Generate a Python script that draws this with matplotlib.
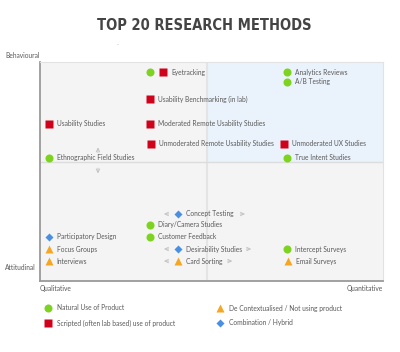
import matplotlib
matplotlib.use("Agg")
import matplotlib.pyplot as plt
from matplotlib.patches import Rectangle
from matplotlib import font_manager
from matplotlib.font_manager import FontProperties

# ---------------- data ----------------
methods = ["Eyetracking", "Usability Benchmarking (in lab)", "Usability Studies",
           "Moderated Remote Usability Studies", "Unmoderated Remote Usability Studies",
           "Ethnographic Field Studies", "Analytics Reviews", "A/B Testing",
           "Unmoderated UX Studies", "True Intent Studies", "Concept Testing",
           "Diary/Camera Studies", "Customer Feedback", "Participatory Design",
           "Focus Groups", "Interviews", "Desirability Studies", "Card Sorting",
           "Intercept Surveys", "Email Surveys"]
qual_quant = [35.9, 32.1, 2.6, 32.1, 32.4, 2.6, 72.0, 72.0, 71.1, 72.0,
              40.2, 32.1, 32.1, 2.6, 2.6, 2.6, 40.2, 40.2, 72.0, 72.3]
att_beh = [95.4, 83.1, 71.7, 71.7, 62.6, 56.2, 95.4, 90.9, 62.6, 56.2,
           30.6, 25.6, 20.1, 20.1, 14.6, 9.1, 14.6, 9.1, 14.6, 9.1]
kinds = ["scripted", "scripted", "scripted", "scripted", "scripted",
         "natural", "natural", "natural", "scripted", "natural",
         "hybrid", "natural", "natural", "hybrid",
         "decontext", "decontext", "hybrid", "decontext", "natural", "decontext"]
# Eyetracking also has a natural-use marker
extra_x = [32.1]
extra_y = [95.4]
extra_kind = ["natural"]

# methods that can slide along the quantitative axis (arrows both sides)
sliding = ["Concept Testing", "Desirability Studies", "Card Sorting"]
slide_right_end = [60.6, 62.4, 56.9]

legend_kinds = ["natural", "scripted", "decontext", "hybrid"]
legend_labels = ["Natural Use of Product", "Scripted (often lab based) use of product",
                 "De Contextualised / Not using product", "Combination / Hybrid"]

title = "TOP 20 RESEARCH METHODS"

# ---------------- style ----------------
style = {
    "natural": dict(marker="o", color="#7ed321", ms=5.8),
    "scripted": dict(marker="s", color="#d0021b", ms=5.2),
    "decontext": dict(marker="^", color="#f5a623", ms=6.0),
    "hybrid": dict(marker="D", color="#4a90e2", ms=4.3),
}
FONT = "Lato"
TXT = "#5a5a5a"
FS = 4.8

# find a condensed bold font for the title if one is installed
title_fp = None
cands = []
for f in font_manager.fontManager.ttflist:
    fn = f.fname.lower()
    if ("condensed" in fn or "narrow" in fn) and ("bold" in fn or f.weight in (700, "bold")):
        cands.append(f)
if cands:
    cands.sort(key=lambda f: (("oblique" in f.fname.lower()) or ("italic" in f.fname.lower()),
                              "extra" in f.fname.lower() or "semi" in f.fname.lower()))
    title_fp = FontProperties(fname=cands[0].fname)
else:
    title_fp = FontProperties(family="DejaVu Sans", weight="bold")

fig = plt.figure(figsize=(4.0, 3.52), dpi=100)
fig.patch.set_facecolor("white")
ax = fig.add_axes([40/400, 1-281/352, 343/400, 219/352])
ax.set_xlim(0, 100)
ax.set_ylim(0, 100)
ax.set_facecolor("#f4f4f4")
ax.set_xticks([])
ax.set_yticks([])

xdiv, ydiv = 48.7, 54.3
ax.add_patch(Rectangle((xdiv, ydiv), 100-xdiv, 100-ydiv, facecolor="#eaf2fb",
                       edgecolor="none", zorder=0))
ax.axvline(xdiv, color="#e4e4e4", lw=1.5, zorder=1)
ax.axhline(ydiv, color="#dcdcdc", lw=1.0, zorder=1)

for s in ["top", "right"]:
    ax.spines[s].set_color("#e2e2e2")
    ax.spines[s].set_linewidth(0.8)
for s in ["left", "bottom"]:
    ax.spines[s].set_color("#9a9a9a")
    ax.spines[s].set_linewidth(1.3)

for xv, yv, k in zip(extra_x, extra_y, extra_kind):
    st = style[k]
    ax.plot(xv, yv, linestyle="none", marker=st["marker"], color=st["color"],
            ms=st["ms"], mec="none", zorder=3)

for name, xv, yv, k in zip(methods, qual_quant, att_beh, kinds):
    st = style[k]
    ax.plot(xv, yv, linestyle="none", marker=st["marker"], color=st["color"],
            ms=st["ms"], mec="none", zorder=3)
    ax.text(xv + 2.3, yv, name, fontsize=FS, family=FONT, color=TXT,
            va="center", ha="left", zorder=4)

arrow_kw = dict(arrowstyle="->,head_length=0.25,head_width=0.12", color="#c4c4c4", lw=0.7)
for name, rend in zip(sliding, slide_right_end):
    i = methods.index(name)
    xv, yv = qual_quant[i], att_beh[i]
    ax.annotate("", xy=(xv - 4.9, yv), xytext=(xv - 1.9, yv), arrowprops=arrow_kw)
    ax.annotate("", xy=(rend, yv), xytext=(rend - 3.0, yv), arrowprops=arrow_kw)

# vertical arrows near Ethnographic Field Studies
ax.annotate("", xy=(16.9, 62.3), xytext=(16.9, 57.3), arrowprops=arrow_kw)
ax.annotate("", xy=(16.9, 47.8), xytext=(16.9, 52.8), arrowprops=arrow_kw)

# axis labels
fig.text(5/400, 1-56/352, "Behavioural", fontsize=FS, family=FONT, color=TXT, va="center")
fig.text(5/400, 1-268/352, "Attitudinal", fontsize=FS, family=FONT, color=TXT, va="center")
fig.text(40/400, 1-289/352, "Qualitative", fontsize=FS, family=FONT, color=TXT, va="center")
fig.text(383/400, 1-289/352, "Quantitative", fontsize=FS, family=FONT, color=TXT,
         va="center", ha="right")

t = fig.text(204/400, 1-25/352, title, fontproperties=title_fp, fontsize=13.5,
             color="#444444", ha="center", va="center")
# shrink the title so its width approaches the reference (~185 px)
fig.canvas.draw()
w = t.get_window_extent().width
target = 185.0
if w > target:
    t.set_fontsize(max(10.5, 13.5 * target / w))

fig.text(118/400, 1-45/352, "-", fontsize=4, color="#aaaaaa", ha="center", va="center")

# legend
lax = fig.add_axes([0, 0, 1, 1], zorder=-1)
lax.set_xlim(0, 400)
lax.set_ylim(352, 0)
lax.axis("off")
leg_x = [48, 48, 220, 220]
leg_y = [308, 323, 308, 323]
for k, lab, lx, ly in zip(legend_kinds, legend_labels, leg_x, leg_y):
    st = style[k]
    lax.plot(lx, ly, linestyle="none", marker=st["marker"], color=st["color"],
             ms=st["ms"], mec="none")
    lax.text(lx + 9, ly, lab, fontsize=FS, family=FONT, color=TXT, va="center", ha="left")

fig.savefig("out.png", dpi=100)
